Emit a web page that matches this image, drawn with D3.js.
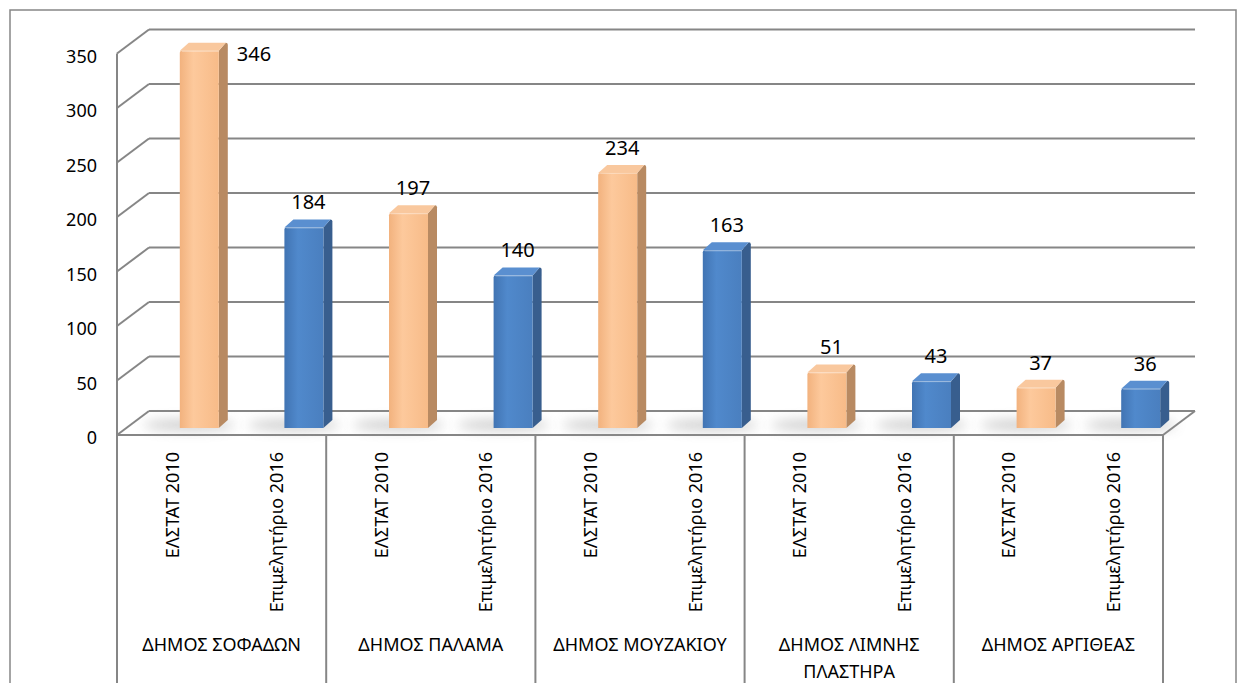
<!DOCTYPE html>
<html>
<head>
<meta charset="utf-8">
<script src="https://cdn.jsdelivr.net/npm/d3@7"></script>
<style>
  body { margin: 0; background: #fff; }
  svg text { font-family: "Noto Sans", "DejaVu Sans", sans-serif; fill: #000; }
</style>
</head>
<body>
<div id="chart"></div>
<script>
// data
const municipalities = ["ΔΗΜΟΣ ΣΟΦΑΔΩΝ", "ΔΗΜΟΣ ΠΑΛΑΜΑ", "ΔΗΜΟΣ ΜΟΥΖΑΚΙΟΥ", "ΔΗΜΟΣ ΛΙΜΝΗΣ ΠΛΑΣΤΗΡΑ", "ΔΗΜΟΣ ΑΡΓΙΘΕΑΣ"];
const sources = ["ΕΛΣΤΑΤ 2010", "Επιμελητήριο 2016"];
const elstat2010 = [346, 197, 234, 51, 37];
const epimelitirio2016 = [184, 140, 163, 43, 36];
const yTicks = [0, 50, 100, 150, 200, 250, 300, 350];

const W = 1246, H = 683;
const left = 117, right = 1163, floorY = 435, topY = 53.5;
const depthX = 32, depthY = -24;      // back wall offset
const barW = 39, barShift = 30, barLift = 7, sideX = 9, sideY = -8;
const gridColor = "#868686";

const rows = [];
municipalities.forEach((m, i) => {
    rows.push({ muni: m, src: sources[0], value: elstat2010[i] });
    rows.push({ muni: m, src: sources[1], value: epimelitirio2016[i] });
});

const svg = d3.select("#chart").append("svg")
    .attr("width", W).attr("height", H);

const defs = svg.append("defs");
defs.append("filter").attr("id", "blur").attr("x", "-50%").attr("y", "-200%")
    .attr("width", "200%").attr("height", "500%")
    .append("feGaussianBlur").attr("stdDeviation", 6);

const palette = {
    [sources[0]]: { front: ["#f2b27e", "#fdc99c", "#f7bb88"], side: "#b88a62", top: "#f9c89e" },
    [sources[1]]: { front: ["#4174b3", "#5089cc", "#4a7fbf"], side: "#385e8e", top: "#5a8fd0" }
};
sources.forEach((s, i) => {
    const g = defs.append("linearGradient").attr("id", "front" + i)
        .attr("x1", 0).attr("x2", 1).attr("y1", 0).attr("y2", 0);
    g.append("stop").attr("offset", "0%").attr("stop-color", palette[s].front[0]);
    g.append("stop").attr("offset", "35%").attr("stop-color", palette[s].front[1]);
    g.append("stop").attr("offset", "100%").attr("stop-color", palette[s].front[2]);
});

// outer border
svg.append("rect")
    .attr("x", 10).attr("y", 10).attr("width", 1226).attr("height", 700)
    .attr("fill", "none").attr("stroke", gridColor).attr("stroke-width", 1.5);

// scales
const y = d3.scaleLinear().domain([0, 350]).range([floorY, topY]);
const xCat = d3.scaleBand().domain(municipalities).range([left, right]);
const xSub = d3.scaleBand().domain(sources).range([0, xCat.bandwidth()]);
const slotCenter = d => xCat(d.muni) + xSub(d.src) + xSub.bandwidth() / 2;

// walls and gridlines
const grid = svg.append("g").attr("stroke", gridColor).attr("stroke-width", 2).attr("fill", "none");
yTicks.forEach(t => {
    grid.append("line")
        .attr("x1", left).attr("y1", y(t))
        .attr("x2", left + depthX).attr("y2", y(t) + depthY);
    grid.append("line")
        .attr("x1", left + depthX).attr("y1", y(t) + depthY)
        .attr("x2", right + depthX).attr("y2", y(t) + depthY);
});
// floor front edge + right edge
grid.append("line").attr("x1", left).attr("y1", floorY).attr("x2", right).attr("y2", floorY);
grid.append("line").attr("x1", right).attr("y1", floorY).attr("x2", right + depthX).attr("y2", floorY + depthY);
// left axis line running down into the table
grid.append("line").attr("x1", left).attr("y1", y(350)).attr("x2", left).attr("y2", H);

// Y axis labels
svg.append("g").selectAll("text")
    .data(yTicks).enter().append("text")
    .attr("x", 97).attr("y", d => y(d) + 3)
    .attr("dy", "0.35em")
    .attr("text-anchor", "end")
    .style("font-size", "18px")
    .text(d => d);

// table dividers
svg.append("g").selectAll("line")
    .data(municipalities).enter().append("line")
    .attr("x1", d => xCat(d) + xCat.bandwidth()).attr("x2", d => xCat(d) + xCat.bandwidth())
    .attr("y1", floorY).attr("y2", H)
    .attr("stroke", gridColor).attr("stroke-width", 2);

// shadows on the floor
svg.append("g").selectAll("ellipse")
    .data(rows).enter().append("ellipse")
    .attr("cx", d => slotCenter(d) + barShift - 10)
    .attr("cy", y(0) - barLift - 3)
    .attr("rx", 46).attr("ry", 6)
    .attr("fill", "#9a9a9a").attr("opacity", 0.45)
    .attr("filter", "url(#blur)");

// bars
const bars = svg.append("g").selectAll("g")
    .data(rows).enter().append("g");

bars.each(function (d) {
    const g = d3.select(this);
    const x0 = slotCenter(d) + barShift - barW / 2, x1 = x0 + barW;
    const base = y(0) - barLift, top = y(d.value) - barLift;
    const c = palette[d.src];
    // side face
    g.append("path")
        .attr("d", `M${x1},${base} L${x1 + sideX},${base + sideY} L${x1 + sideX},${top + sideY + 2} Q${x1 + sideX},${top + sideY} ${x1 + sideX - 2},${top + sideY} L${x1},${top} Z`)
        .attr("fill", c.side);
    // top face
    g.append("path")
        .attr("d", `M${x0},${top} L${x0 + sideX},${top + sideY} L${x1 + sideX - 2},${top + sideY} L${x1},${top} Z`)
        .attr("fill", c.top);
    // front face
    g.append("path")
        .attr("d", `M${x0},${base} L${x0},${top + 2} Q${x0},${top} ${x0 + 2},${top} L${x1},${top} L${x1},${base} Z`)
        .attr("fill", "url(#front" + sources.indexOf(d.src) + ")");
    // highlight along top edge
    g.append("line")
        .attr("x1", x0 + 2).attr("x2", x1).attr("y1", top + 0.5).attr("y2", top + 0.5)
        .attr("stroke", "#fff").attr("stroke-opacity", 0.35);
});

// value labels
const plotTop = y(350) + depthY;
svg.append("g").selectAll("text")
    .data(rows).enter().append("text")
    .style("font-size", "20px")
    .each(function (d) {
        const cx = slotCenter(d) + barShift + sideX / 2;
        const top = y(d.value) - barLift;
        const t = d3.select(this).text(d.value);
        if (top - 18 - 14 < plotTop) {
            t.attr("x", slotCenter(d) + barShift + barW / 2 + sideX + 9)
                .attr("y", top + 10).attr("text-anchor", "start");
        } else {
            t.attr("x", cx).attr("y", top - 18).attr("text-anchor", "middle");
        }
    });

// sub-category labels (rotated)
svg.append("g").selectAll("text")
    .data(rows).enter().append("text")
    .attr("transform", d => "translate(" + (slotCenter(d) + 3) + ",452) rotate(-90)")
    .attr("dy", "0.35em")
    .attr("text-anchor", "end")
    .style("font-size", "18px")
    .text(d => d.src);

// category labels, wrapped to the cell width
const catText = svg.append("g").selectAll("text")
    .data(municipalities).enter().append("text")
    .attr("x", d => xCat(d) + xCat.bandwidth() / 2)
    .attr("y", 651)
    .attr("text-anchor", "middle")
    .style("font-size", "18px");

catText.each(function (d) {
    const el = d3.select(this);
    const words = d.split(" ");
    let line = [];
    let tspan = el.append("tspan").attr("x", xCat(d) + xCat.bandwidth() / 2).attr("dy", 0);
    words.forEach(w => {
        line.push(w);
        tspan.text(line.join(" "));
        if (tspan.node().getComputedTextLength() > xCat.bandwidth() - 14 && line.length > 1) {
            line.pop();
            tspan.text(line.join(" "));
            line = [w];
            tspan = el.append("tspan").attr("x", xCat(d) + xCat.bandwidth() / 2).attr("dy", 27).text(w);
        }
    });
});
</script>
</body>
</html>
